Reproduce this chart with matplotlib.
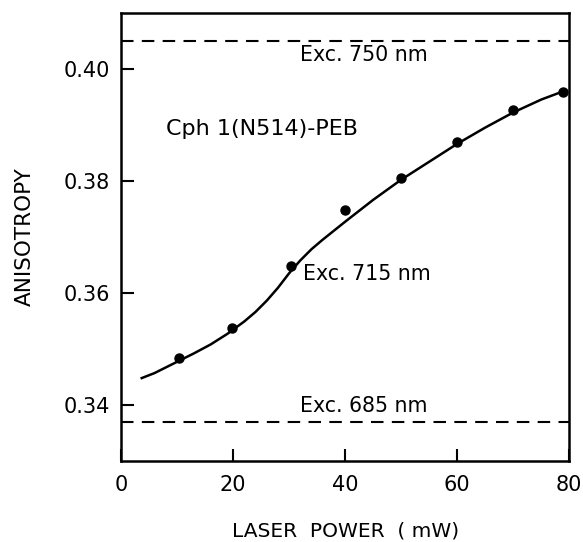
import matplotlib
matplotlib.use('Agg')
import matplotlib.pyplot as plt

# 测量点
power = [10.3, 19.9, 30.3, 40, 50, 60, 70, 78.8]
anisotropy = [0.3484, 0.3538, 0.3648, 0.3748, 0.3805, 0.3870, 0.3927, 0.3958]

# 拟合曲线
fit_x = [3.7, 6, 10, 13, 16, 19, 22, 24, 26, 28, 30, 32, 34, 36, 38, 40,
         45, 50, 55, 60, 65, 70, 75, 79]
fit_y = [0.3448, 0.3457, 0.3477, 0.3492, 0.3508, 0.3527, 0.3549, 0.3566, 0.3586,
         0.3609, 0.3635, 0.3658, 0.3678, 0.3695, 0.3711, 0.3727,
         0.3766, 0.3802, 0.3834, 0.3866, 0.3895, 0.3922, 0.3945, 0.3960]

# 各激发波长的水平参考线
ref_levels = [0.4050, 0.3370]
ref_labels = ['Exc. 750 nm', 'Exc. 685 nm']
ref_label_y = [0.4024, 0.3398]

plt.rcParams['font.family'] = ['DejaVu Sans']

fig = plt.figure(figsize=(5.83, 5.42), dpi=100)
ax = fig.add_axes([0.2075, 0.1494, 0.769, 0.8272])

ax.plot(fit_x, fit_y, color='black', lw=1.8)
ax.plot(power, anisotropy, 'o', color='black', markersize=6.5)

for lvl in ref_levels:
    ax.axhline(lvl, color='black', lw=1.5, dashes=(6, 4))
for lab, ty in zip(ref_labels, ref_label_y):
    ax.text(32.0, ty, lab, fontsize=14.8, va='center', ha='left')

ax.text(32.4, 0.3633, 'Exc. 715 nm', fontsize=14.8, va='center', ha='left')
ax.text(8.0, 0.3892, 'Cph 1(N514)-PEB', fontsize=16, va='center', ha='left')

ax.set_xlim(0, 80)
ax.set_ylim(0.33, 0.41)
ax.set_xticks([0, 20, 40, 60, 80])
ax.set_yticks([0.34, 0.36, 0.38, 0.40])
ax.set_yticklabels(['0.34', '0.36', '0.38', '0.40'])
ax.tick_params(direction='in', length=9, width=1.5, labelsize=15)
ax.tick_params(axis='x', pad=10)
ax.tick_params(axis='y', pad=8)
for s in ax.spines.values():
    s.set_linewidth(1.8)

ax.set_xlabel('LASER  POWER  ( mW)', fontsize=14.5, va='center')
ax.xaxis.set_label_coords(0.5, -0.155)
ax.set_ylabel('ANISOTROPY', fontsize=15.5, va='center')
ax.yaxis.set_label_coords(-0.215, 0.5)

fig.savefig('out.png', dpi=100, facecolor='white')
